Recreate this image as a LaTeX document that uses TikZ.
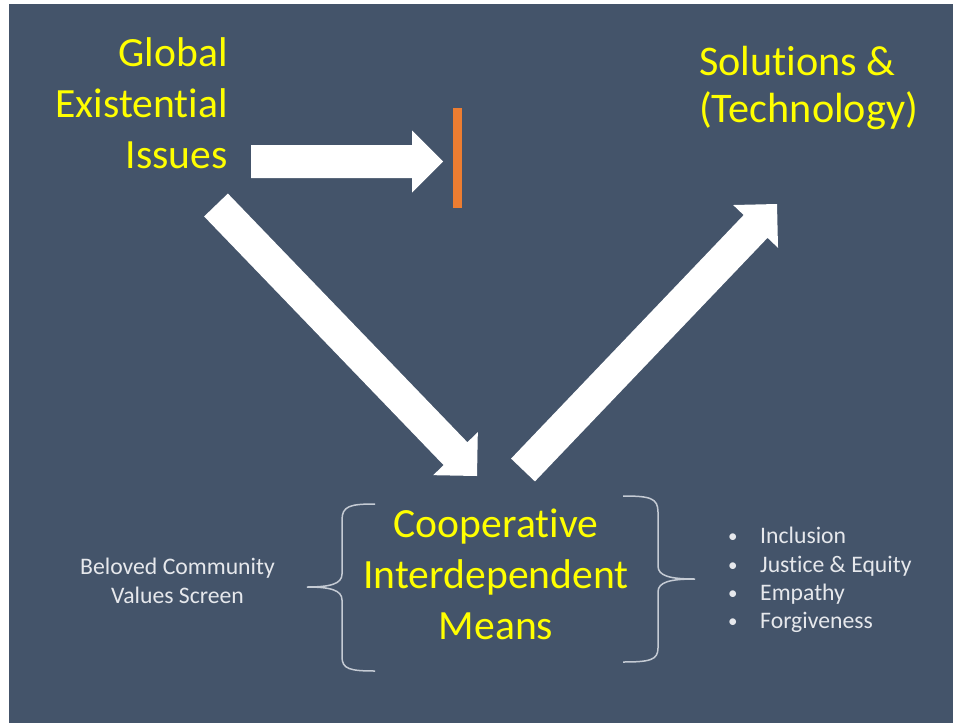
\documentclass[tikz,border=0pt]{standalone}
\usepackage{fontspec}
\setmainfont{Carlito}[Ligatures=NoCommon]
\usetikzlibrary{calc}
\definecolor{panelblue}{HTML}{44546A}
\definecolor{titleyellow}{HTML}{FFFF00}
\definecolor{softwhite}{HTML}{E6E8EC}
\definecolor{bracegray}{HTML}{C5CBD4}
\definecolor{stoporange}{HTML}{ED7D31}
\newcommand\blockarrow[2]{%
  \coordinate (hb) at ($(#2)!31pt!(#1)$);
  \fill[arrowfill] ($(#1)!16.5pt!90:(#2)$) -- ($(hb)!16.5pt!-90:(#1)$) -- ($(hb)!31pt!-90:(#1)$)
    -- (#2) -- ($(hb)!31pt!90:(#1)$) -- ($(hb)!16.5pt!90:(#1)$) -- ($(#1)!16.5pt!-90:(#2)$) -- cycle;}
\newcommand\bul{\makebox[33pt][l]{\hspace{1pt}\raisebox{1pt}{\scalebox{0.8}{\textbullet}}}}
\begin{document}
\begin{tikzpicture}[x=1pt,y=-1pt,
  bigtext/.style={text=titleyellow,inner sep=0pt,font=\fontsize{41.6}{51}\selectfont},
  smalltext/.style={text=softwhite,inner sep=0pt,font=\fontsize{23.7}{28.3}\selectfont},
  bracestyle/.style={draw=bracegray,line width=1.5pt},
  arrowfill/.style={fill=white},
  barstyle/.style={fill=stoporange}]
\useasboundingbox (0,0) rectangle (953,723);
\fill[white] (0,0) rectangle (953,723);
\fill[panelblue] (9,4) rectangle (953,723);
% text blocks
\node[bigtext,align=right,anchor=east] (issues) at (228,103) {Global\\Existential\\Issues};
\node[bigtext,align=left,anchor=west,font=\fontsize{42.2}{47}\selectfont] (solutions) at (699,88) {Solutions \&\\(Technology)};
\node[bigtext,align=center] (means) at (496,574) {Cooperative\\Interdependent\\Means};
\node[smalltext,align=center] (values) at (177.5,581) {Beloved Community\\Values Screen};
\node[smalltext,align=left,anchor=west] (list) at (727,580)
  {\bul Inclusion\\\bul Justice \& Equity\\\bul Empathy\\\bul Forgiveness};
% blocking bar
\node[barstyle,minimum width=9pt,minimum height=100pt,inner sep=0pt] (bar) at (457.5,158) {};
% arrows
\coordinate (a1tail) at (251,161.5);
\coordinate (a1tip) at (443,161.5);
\coordinate (a2tail) at (216,205);
\coordinate (a2tip) at (477,476);
\coordinate (a3tail) at (523,470);
\coordinate (a3tip) at (777,204);
\blockarrow{a1tail}{a1tip}
\blockarrow{a2tail}{a2tip}
\blockarrow{a3tail}{a3tip}
% braces
\draw[bracestyle] (375,504) .. controls (350,504) and (342,506) .. (342,520) -- (342,574)
  .. controls (342,584) and (330,587) .. (307,587) .. controls (330,587) and (342,590) .. (342,600)
  -- (342,657) .. controls (342,669) and (350,671) .. (375,671);
\draw[bracestyle] (623,496) .. controls (650,496) and (658,498) .. (658,512) -- (658,566)
  .. controls (658,576) and (670,579) .. (695,579) .. controls (670,579) and (658,582) .. (658,592)
  -- (658,648) .. controls (658,660) and (650,662) .. (623,662);
\end{tikzpicture}
\end{document}
